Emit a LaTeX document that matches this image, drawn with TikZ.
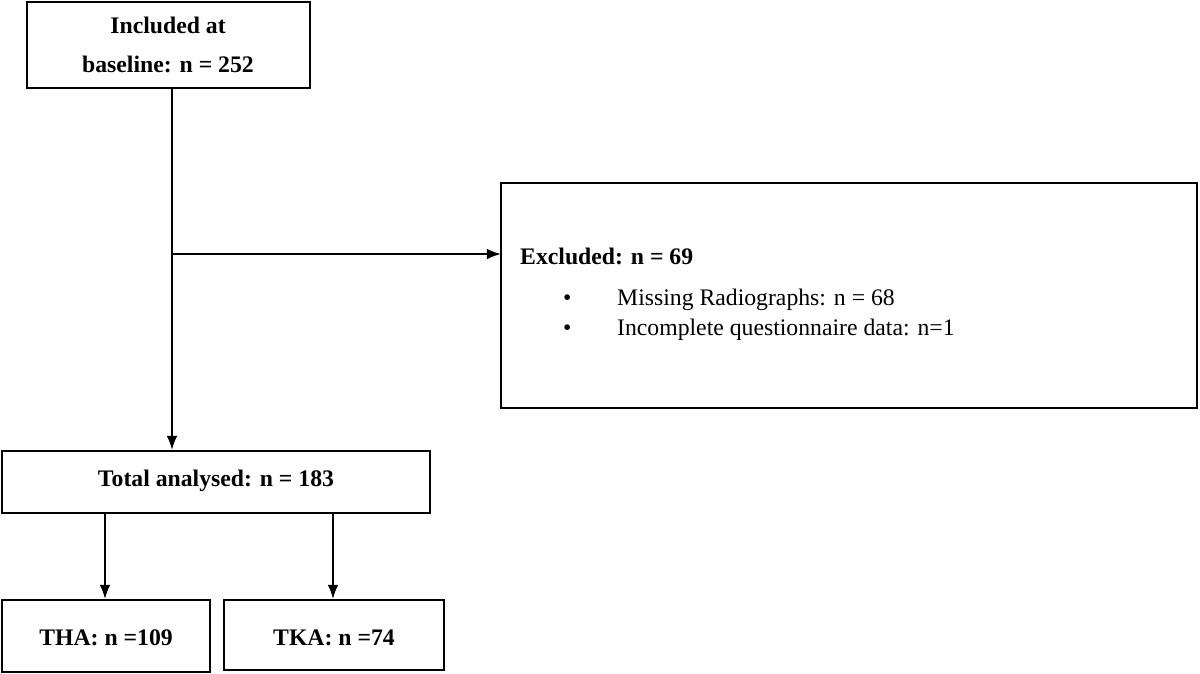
\documentclass[tikz,border=0pt]{standalone}
\usepackage{fontspec}
\setmainfont{Liberation Serif}
\usetikzlibrary{arrows.meta}
\begin{document}
\begin{tikzpicture}[x=0.02cm,y=-0.02cm,
  box/.style={draw,line width=0.9pt,inner sep=0pt},
  arr/.style={line width=1pt,-{Latex[length=8pt,width=6pt]}},
  lbl/.style={font=\fontsize{13.5}{22}\selectfont\bfseries,align=center},
  txt/.style={font=\fontsize{13.5}{17}\selectfont,anchor=west}]
\useasboundingbox (0,0) rectangle (1200,673);
\draw[box] (27,2) rectangle (310,88);
\node[lbl] (inc) at (168,45) {Included at\\baseline: n = 252};
\draw[box] (501,183) rectangle (1197,408);
\coordinate (excl) at (501,254);
\node[lbl,anchor=west] (ex) at (514,256) {Excluded: n = 69};
\node[txt] (b1) at (557,300) {\textbullet\hspace{26pt}Missing Radiographs: n = 68};
\node[txt] (b2) at (557,330) {\textbullet\hspace{26pt}Incomplete questionnaire data: n=1};
\draw[box] (2,451) rectangle (430,513);
\node[lbl] (tot) at (216,481) {Total analysed: n = 183};
\draw[box] (2,600) rectangle (210,672);
\node[lbl] (tha) at (106,638) {THA: n =109};
\draw[box] (224,600) rectangle (444,670);
\node[lbl] (tka) at (334,638) {TKA: n =74};
\coordinate (a0) at (172,88);
\coordinate (a1) at (172,254);
\draw[arr] (a0) -- (172,450);
\draw[arr] (a1) -- (excl);
\draw[arr] (105,513) -- (105,599);
\draw[arr] (333,513) -- (333,599);
\end{tikzpicture}
\end{document}
